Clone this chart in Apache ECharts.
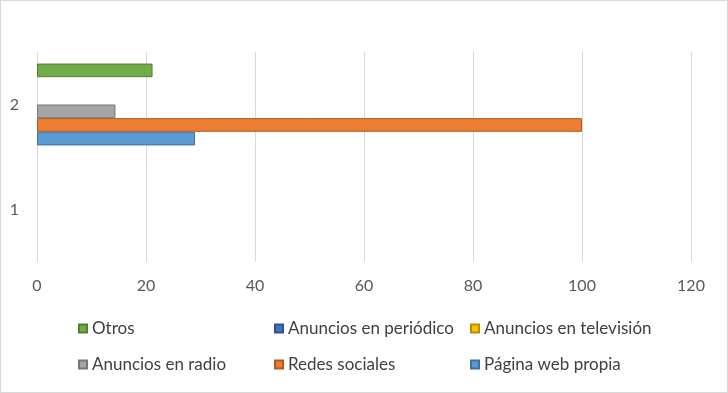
<!DOCTYPE html>
<html><head><meta charset="utf-8">
<script src="https://cdn.jsdelivr.net/npm/echarts@6/dist/echarts.min.js"></script>
<style>
html,body{margin:0;padding:0;background:#fff;}
#c{position:absolute;left:0;top:0;width:726px;height:391px;border:1px solid #d9d9d9;}
</style></head>
<body><div id="c"></div>
<script>
const categories = ['1', '2'];
const xTicks = [0, 20, 40, 60, 80, 100, 120];
const seriesNames = ['Página web propia', 'Redes sociales', 'Anuncios en radio', 'Anuncios en televisión', 'Anuncios en periódico', 'Otros'];
const paginaWeb = [0, 29];
const redesSociales = [0, 100];
const anunciosRadio = [0, 14.4];
const anunciosTelevision = [0, 0];
const anunciosPeriodico = [0, 0];
const otros = [0, 21.2];
const fills = ['#5B9BD5', '#ED7D31', '#A5A5A5', '#FFC000', '#4472C4', '#70AD47'];
const borders = ['#41719C', '#AE5A21', '#787878', '#BC8C00', '#2F528F', '#507E32'];
const values = [paginaWeb, redesSociales, anunciosRadio, anunciosTelevision, anunciosPeriodico, otros];
const legendRows = [
  ['Otros', 'Anuncios en periódico', 'Anuncios en televisión'],
  ['Anuncios en radio', 'Redes sociales', 'Página web propia']
];
const FONT = 'Lato';
const legendLeft = [77, 273, 469];
const legendTop = [319, 355];
const legends = [];
legendRows.forEach((row, r) => row.forEach((name, i) => {
  legends.push({
    data: [{name: name, icon: 'rect'}], left: legendLeft[i], top: legendTop[r], padding: 0,
    itemWidth: 8, itemHeight: 8, selectedMode: false,
    textStyle: {fontFamily: FONT, fontSize: 17, color: '#404040'}
  });
}));
// ECharts stacks horizontal bars top-down in series order; Excel draws the first series at the bottom
const order = [5, 4, 3, 2, 1, 0];
const chart = echarts.init(document.getElementById('c'), null, {renderer: 'canvas'});
chart.setOption({
  animation: false,
  grid: {left: 36, right: 36, top: 51, bottom: 130},
  legend: legends,
  xAxis: {
    type: 'value', min: xTicks[0], max: xTicks[xTicks.length - 1], interval: 20,
    axisLine: {show: false}, axisTick: {show: false},
    splitLine: {show: true, lineStyle: {color: '#d9d9d9', width: 1}},
    axisLabel: {fontFamily: FONT, fontSize: 16, color: '#595959', margin: 16}
  },
  yAxis: {
    type: 'category', data: categories,
    axisLine: {show: false}, axisTick: {show: false}, splitLine: {show: false},
    axisLabel: {fontFamily: FONT, fontSize: 16, color: '#595959', margin: 18}
  },
  series: order.map(i => ({
    name: seriesNames[i], type: 'bar',
    data: values[i].map(v => ({value: v, itemStyle: {borderWidth: v > 0 ? 1 : 0}})),
    barGap: '0%', barCategoryGap: '22%',
    itemStyle: {color: fills[i], borderColor: borders[i], borderWidth: 1}
  }))
});
</script></body></html>
